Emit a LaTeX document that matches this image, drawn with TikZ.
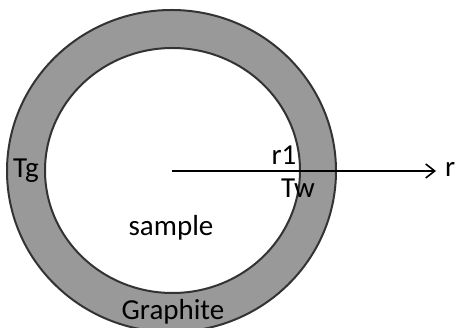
\documentclass[tikz,border=0pt]{standalone}
\usepackage{fontspec}
\setmainfont{Carlito}
\usepackage{xcolor}
\usetikzlibrary{positioning,arrows.meta}
\definecolor{graphitegray}{HTML}{999999}
\definecolor{rimline}{HTML}{333333}

\begin{document}
\begin{tikzpicture}[
  x=1pt, y=-1pt,
  font=\fontsize{29}{32}\selectfont,
  rim/.style={draw=rimline, line width=2pt},
  label/.style={inner sep=0pt, text=black},
]
\useasboundingbox (0,0) rectangle (455,328);
\draw[rim, fill=graphitegray] (171.5,171) ellipse [x radius=164.5, y radius=161];
\draw[rim, fill=white] (172.5,170.5) ellipse [x radius=127.5, y radius=122.5];

\coordinate (centre) at (172,171);
\node[label, anchor=west] (r) at (445,169) {r};
\node[label] (tg) at (26,171) {Tg};
\node[label] (r1) at (284,155) {r1};
\node[label] (tw) at (298,188) {Tw};
\node[label] (sample) at (171,228) {sample};
\node[label] (graphite) at (173,312) {Graphite};

\draw[line width=1.6pt, -{Straight Barb[length=9pt, width=14pt]}] (centre) -- ([xshift=-9pt]r.west |- centre);
\end{tikzpicture}
\end{document}
